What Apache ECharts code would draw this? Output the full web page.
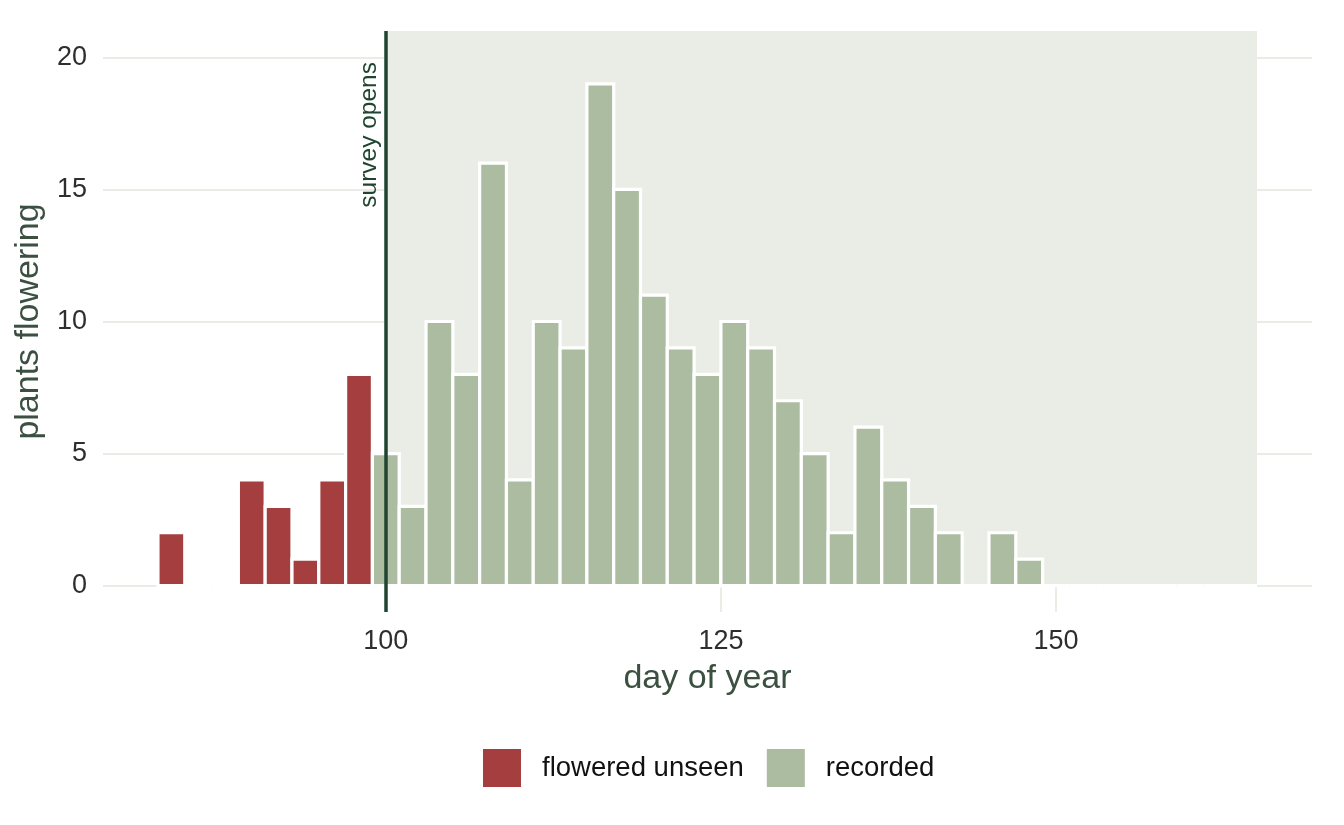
<!DOCTYPE html>
<html>
<head>
<meta charset="utf-8">
<title>flowering days</title>
<script src="https://cdn.jsdelivr.net/npm/echarts@6/dist/echarts.min.js"></script>
<style>
  html, body { margin: 0; padding: 0; background: #fff; }
  #chart { width: 1344px; height: 825px; }
</style>
</head>
<body>
<div id="chart"></div>
<script>
// bin centres (day of year, bins 2 days wide) and counts
var unseenDays = [84, 86, 88, 90, 92, 94, 96, 98];
var unseenCounts = [2, 0, 0, 4, 3, 1, 4, 8];
var recordedDays = [100, 102, 104, 106, 108, 110, 112, 114, 116, 118, 120, 122, 124, 126, 128,
    130, 132, 134, 136, 138, 140, 142, 144, 146, 148, 150, 152, 154, 156, 158, 160, 162, 164];
var recordedCounts = [5, 3, 10, 8, 16, 4, 10, 9, 19, 15, 11, 9, 8, 10, 9,
    7, 5, 2, 6, 4, 3, 2, 0, 2, 1, 0, 0, 0, 0, 0, 0, 0, 0];
var binWidth = 2;
var surveyOpens = 100;
var seasonEnd = 165;
var yTicks = [0, 5, 10, 15, 20];
var xTicks = [100, 125, 150];

var FONT = '"Liberation Sans", Arial, sans-serif';
var TITLE_COLOR = '#3b5040';
var TEXT_COLOR = '#2e2e2e';

function pairs(xs, ys) {
    var out = [];
    for (var i = 0; i < xs.length; i++) {
        out.push([xs[i], ys[i]]);
    }
    return out;
}

function renderBar(params, api) {
    var x = api.value(0), y = api.value(1);
    var p0 = api.coord([x - binWidth / 2, y]);
    var p1 = api.coord([x + binWidth / 2, 0]);
    return {
        type: 'rect',
        shape: { x: p0[0], y: p0[1], width: p1[0] - p0[0], height: p1[1] - p0[1] },
        style: { fill: api.visual('color'), stroke: '#ffffff', lineWidth: 3.2 }
    };
}

function renderShade(params, api) {
    var p0 = api.coord([api.value(0), 21]);
    var p1 = api.coord([api.value(1), 0]);
    return {
        type: 'rect',
        shape: { x: p0[0], y: p0[1], width: p1[0] - p0[0], height: p1[1] - p0[1] },
        style: { fill: '#eaede5' }
    };
}

var myChart = echarts.init(document.getElementById('chart'));
myChart.setOption({
    backgroundColor: '#ffffff',
    animation: false,
    textStyle: { fontFamily: FONT },
    grid: { left: 103, right: 32, top: 31, bottom: 213 },
    legend: {
        data: ['flowered unseen', 'recorded'],
        left: 478,
        top: 744,
        icon: 'rect',
        itemWidth: 38,
        itemHeight: 38,
        itemGap: 23,
        itemStyle: { borderWidth: 0 },
        textStyle: { fontFamily: FONT, fontSize: 27.5, color: '#111', padding: [0, 0, 0, 16] }
    },
    xAxis: {
        type: 'value',
        min: 78.9,
        max: 169.1,
        name: 'day of year',
        nameLocation: 'middle',
        nameGap: 50,
        nameTextStyle: { fontFamily: FONT, fontSize: 34, color: TITLE_COLOR },
        axisLine: { show: false },
        axisTick: { show: false, customValues: xTicks },
        axisLabel: { customValues: xTicks, fontSize: 27, color: TEXT_COLOR, margin: 16 },
        splitLine: { show: true, lineStyle: { color: '#e4e6dc', width: 1.5 } }
    },
    yAxis: {
        type: 'value',
        min: -1,
        max: 21,
        name: 'plants flowering',
        nameLocation: 'middle',
        nameGap: 55,
        nameTextStyle: { fontFamily: FONT, fontSize: 34, color: TITLE_COLOR },
        axisLine: { show: false },
        axisTick: { show: false, customValues: yTicks },
        axisLabel: { customValues: yTicks, fontSize: 27, color: TEXT_COLOR, margin: 16 },
        splitLine: { show: true, lineStyle: { color: '#e4e6dc', width: 1.5 } }
    },
    series: [
        {
            name: 'survey period',
            type: 'custom',
            z: 1,
            silent: true,
            renderItem: renderShade,
            data: [[surveyOpens, seasonEnd]],
            markLine: {
                silent: true,
                symbol: 'none',
                z: 10,
                lineStyle: { color: '#1f4530', width: 3.5, type: 'solid' },
                label: {
                    show: true,
                    position: 'insideEndTop',
                    formatter: 'survey opens',
                    fontFamily: FONT,
                    fontSize: 24.5,
                    color: '#1f4530',
                    distance: 4,
                    padding: [0, 27, 0, 0]
                },
                data: [{ xAxis: surveyOpens }]
            }
        },
        {
            name: 'flowered unseen',
            type: 'custom',
            z: 3,
            renderItem: renderBar,
            itemStyle: { color: '#a53e3e' },
            data: pairs(unseenDays, unseenCounts)
        },
        {
            name: 'recorded',
            type: 'custom',
            z: 3,
            renderItem: renderBar,
            itemStyle: { color: '#abbca1' },
            data: pairs(recordedDays, recordedCounts)
        }
    ]
});
window.onresize = myChart.resize;
</script>
</body>
</html>
